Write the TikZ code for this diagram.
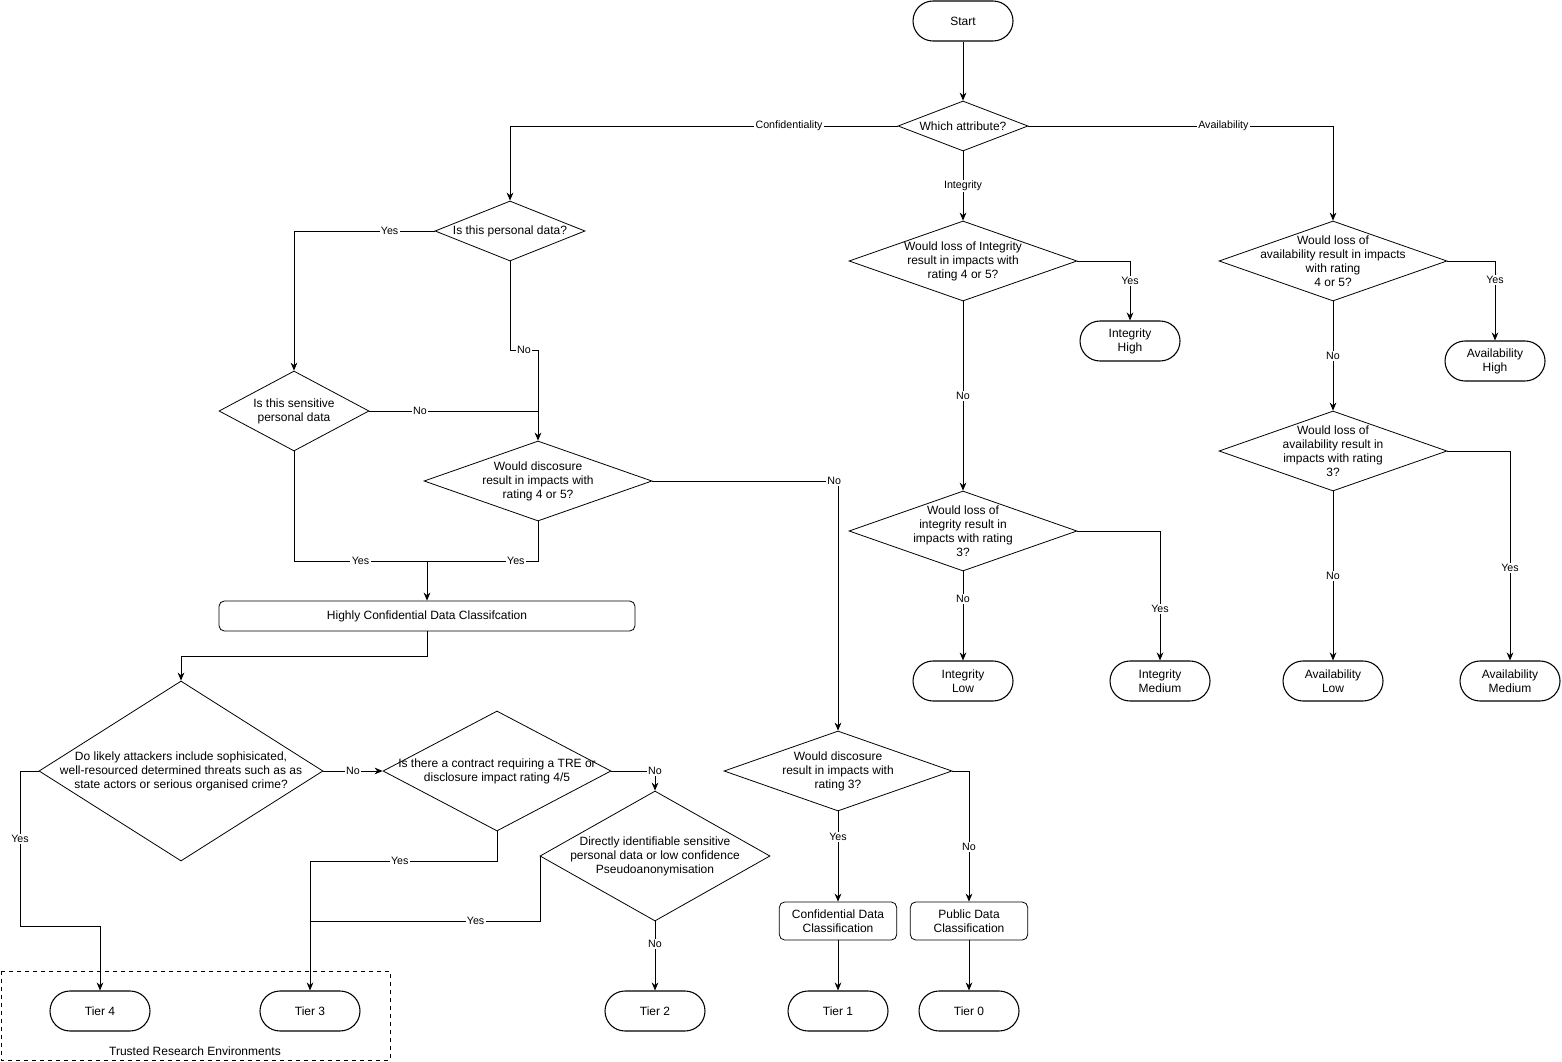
\documentclass[tikz,border=0pt]{standalone}
\usepackage{fontspec}
\setmainfont{Liberation Sans}
\usetikzlibrary{shapes.geometric,arrows.meta}

\tikzset{
  txt/.style={font=\fontsize{9}{10.5}\selectfont, align=center},
  term/.style={txt, draw, rectangle, rounded corners=15pt, minimum width=75pt, minimum height=30pt, line width=0.8pt},
  box/.style={txt, draw, rectangle, rounded corners=4pt, minimum height=#1*0.75pt},
  dia/.style n args={3}{txt, draw, diamond, aspect=#3, inner sep=-3pt, minimum width=#1*0.75pt, minimum height=#2*0.75pt},
  lbl/.style={font=\fontsize{8}{9}\selectfont, fill=white, inner sep=1pt},
  arr/.style={->, >={Stealth[length=6pt,width=5pt]}},
}

\begin{document}
\begin{tikzpicture}[x=0.75pt, y=-0.75pt, line width=0.6pt]
\useasboundingbox (0,0) rectangle (1562,1062);

% top of the chart
\node [term] (start) at (963,21) {Start};
\node [dia={130}{50}{2.6}] (attr) at (963,126) {Which attribute?};

% confidentiality branch
\node [dia={150}{60}{2.5}] (pers) at (510,231) {Is this personal data?};
\node [dia={150}{80}{1.9}] (sens) at (294,411) {Is this sensitive\\personal data};
\node [dia={228}{80}{2.85}] (disc45) at (538,481) {Would discosure\\result in impacts with\\rating 4 or 5?};
\node [box=30, minimum width=312pt] (high) at (427,616) {Highly Confidential Data Classifcation};
\node [dia={284}{180}{1.58}] (attk) at (181,771) {Do likely attackers include sophisicated,\\well-resourced determined threats such as as\\state actors or serious organised crime?};
\node [dia={228}{120}{1.9}, inner sep=-8pt] (contr) at (497,771) {Is there a contract requiring a TRE or\\disclosure impact rating 4/5};
\node [dia={230}{130}{1.77}, inner sep=-6pt] (ident) at (655,856) {Directly identifiable sensitive\\personal data or low confidence\\Pseudoanonymisation};
\node [dia={228}{80}{2.85}] (disc3) at (838,771) {Would discosure\\result in impacts with\\rating 3?};
\node [box=38, minimum width=88pt] (conf) at (838,921) {Confidential Data\\Classification};
\node [box=38, minimum width=88pt] (pub) at (969,921) {Public Data\\Classification};

% tiers
\node [term] (t4) at (100,1011) {Tier 4};
\node [term] (t3) at (310,1011) {Tier 3};
\node [term] (t2) at (655,1011) {Tier 2};
\node [term] (t1) at (838,1011) {Tier 1};
\node [term] (t0) at (969,1011) {Tier 0};
\draw [dashed, line width=0.5pt] (1,971) rectangle (390,1060);
\node [txt] (tre) at (195,1051) {Trusted Research Environments};

% integrity branch
\node [dia={228}{80}{2.85}] (int45) at (963,261) {Would loss of Integrity\\result in impacts with\\rating 4 or 5?};
\node [term] (ihigh) at (1130,341) {Integrity\\High};
\node [dia={228}{80}{2.85}] (int3) at (963,531) {Would loss of\\integrity result in\\impacts with rating\\3?};
\node [term] (ilow) at (963,681) {Integrity\\Low};
\node [term] (imed) at (1160,681) {Integrity\\Medium};

% availability branch
\node [dia={228}{80}{2.85}, inner sep=-7pt] (av45) at (1333,261) {Would loss of\\availability result in impacts\\with rating\\4 or 5?};
\node [term] (ahigh) at (1495,361) {Availability\\High};
\node [dia={228}{80}{2.85}] (av3) at (1333,451) {Would loss of\\availability result in\\impacts with rating\\3?};
\node [term] (alow) at (1333,681) {Availability\\Low};
\node [term] (amed) at (1510,681) {Availability\\Medium};

% connectors
\draw [arr] (start) -- (attr);
\draw [arr] (attr.west) -| node [lbl, pos=0.14] {Confidentiality} (pers.north);
\draw [arr] (attr.east) -| node [lbl, pos=0.32] {Availability} (av45.north);
\draw [arr] (attr.south) -- node [lbl] {Integrity} (int45.north);

\draw [arr] (pers.west) -| node [lbl, pos=0.16] {Yes} (sens.north);
\draw [arr] (pers.south) |- node [lbl, pos=0.75] {No} (538,350) -- (disc45.north);
\draw (sens.east) -- node [lbl, pos=0.3] {No} (538,411);
\draw (sens.south) |- node [lbl, pos=0.75] {Yes} (427,561);
\draw (disc45.south) |- node [lbl, pos=0.6] {Yes} (427,561);
\draw [arr] (427,561) -- (high.north);
\draw [arr] (disc45.east) -| node [lbl, pos=0.49] {No} (disc3.north);

\draw [arr] (high.south) |- (181,656) -- (attk.north);
\draw [arr] (attk.east) -- node [lbl] {No} (contr.west);
\draw [arr] (attk.west) -- (20,771) |- node [lbl, pos=0.22] {Yes} (100,926) -- (t4.north);
\draw [arr] (contr.east) -| node [lbl, pos=0.5] {No} (ident.north);
\draw [arr] (contr.south) |- node [lbl, pos=0.76] {Yes} (310,861) -- (t3.north);
\draw (ident.west) -- (540,856) |- node [lbl, pos=0.64] {Yes} (310,921);
\draw [arr] (ident.south) -- node [lbl, pos=0.33] {No} (t2.north);

\draw [arr] (disc3.south) -- node [lbl, pos=0.28] {Yes} (conf.north);
\draw [arr] (disc3.east) -| node [lbl, pos=0.79] {No} (pub.north);
\draw [arr] (conf) -- (t1);
\draw [arr] (pub) -- (t0);

\draw [arr] (int45.east) -| node [lbl, pos=0.67] {Yes} (ihigh.north);
\draw [arr] (int45.south) -- node [lbl] {No} (int3.north);
\draw [arr] (int3.south) -- node [lbl, pos=0.31] {No} (ilow.north);
\draw [arr] (int3.east) -| node [lbl, pos=0.8] {Yes} (imed.north);

\draw [arr] (av45.east) -| node [lbl, pos=0.62] {Yes} (ahigh.north);
\draw [arr] (av45.south) -- node [lbl] {No} (av3.north);
\draw [arr] (av3.south) -- node [lbl] {No} (alow.north);
\draw [arr] (av3.east) -| node [lbl, pos=0.78] {Yes} (amed.north);
\end{tikzpicture}
\end{document}
